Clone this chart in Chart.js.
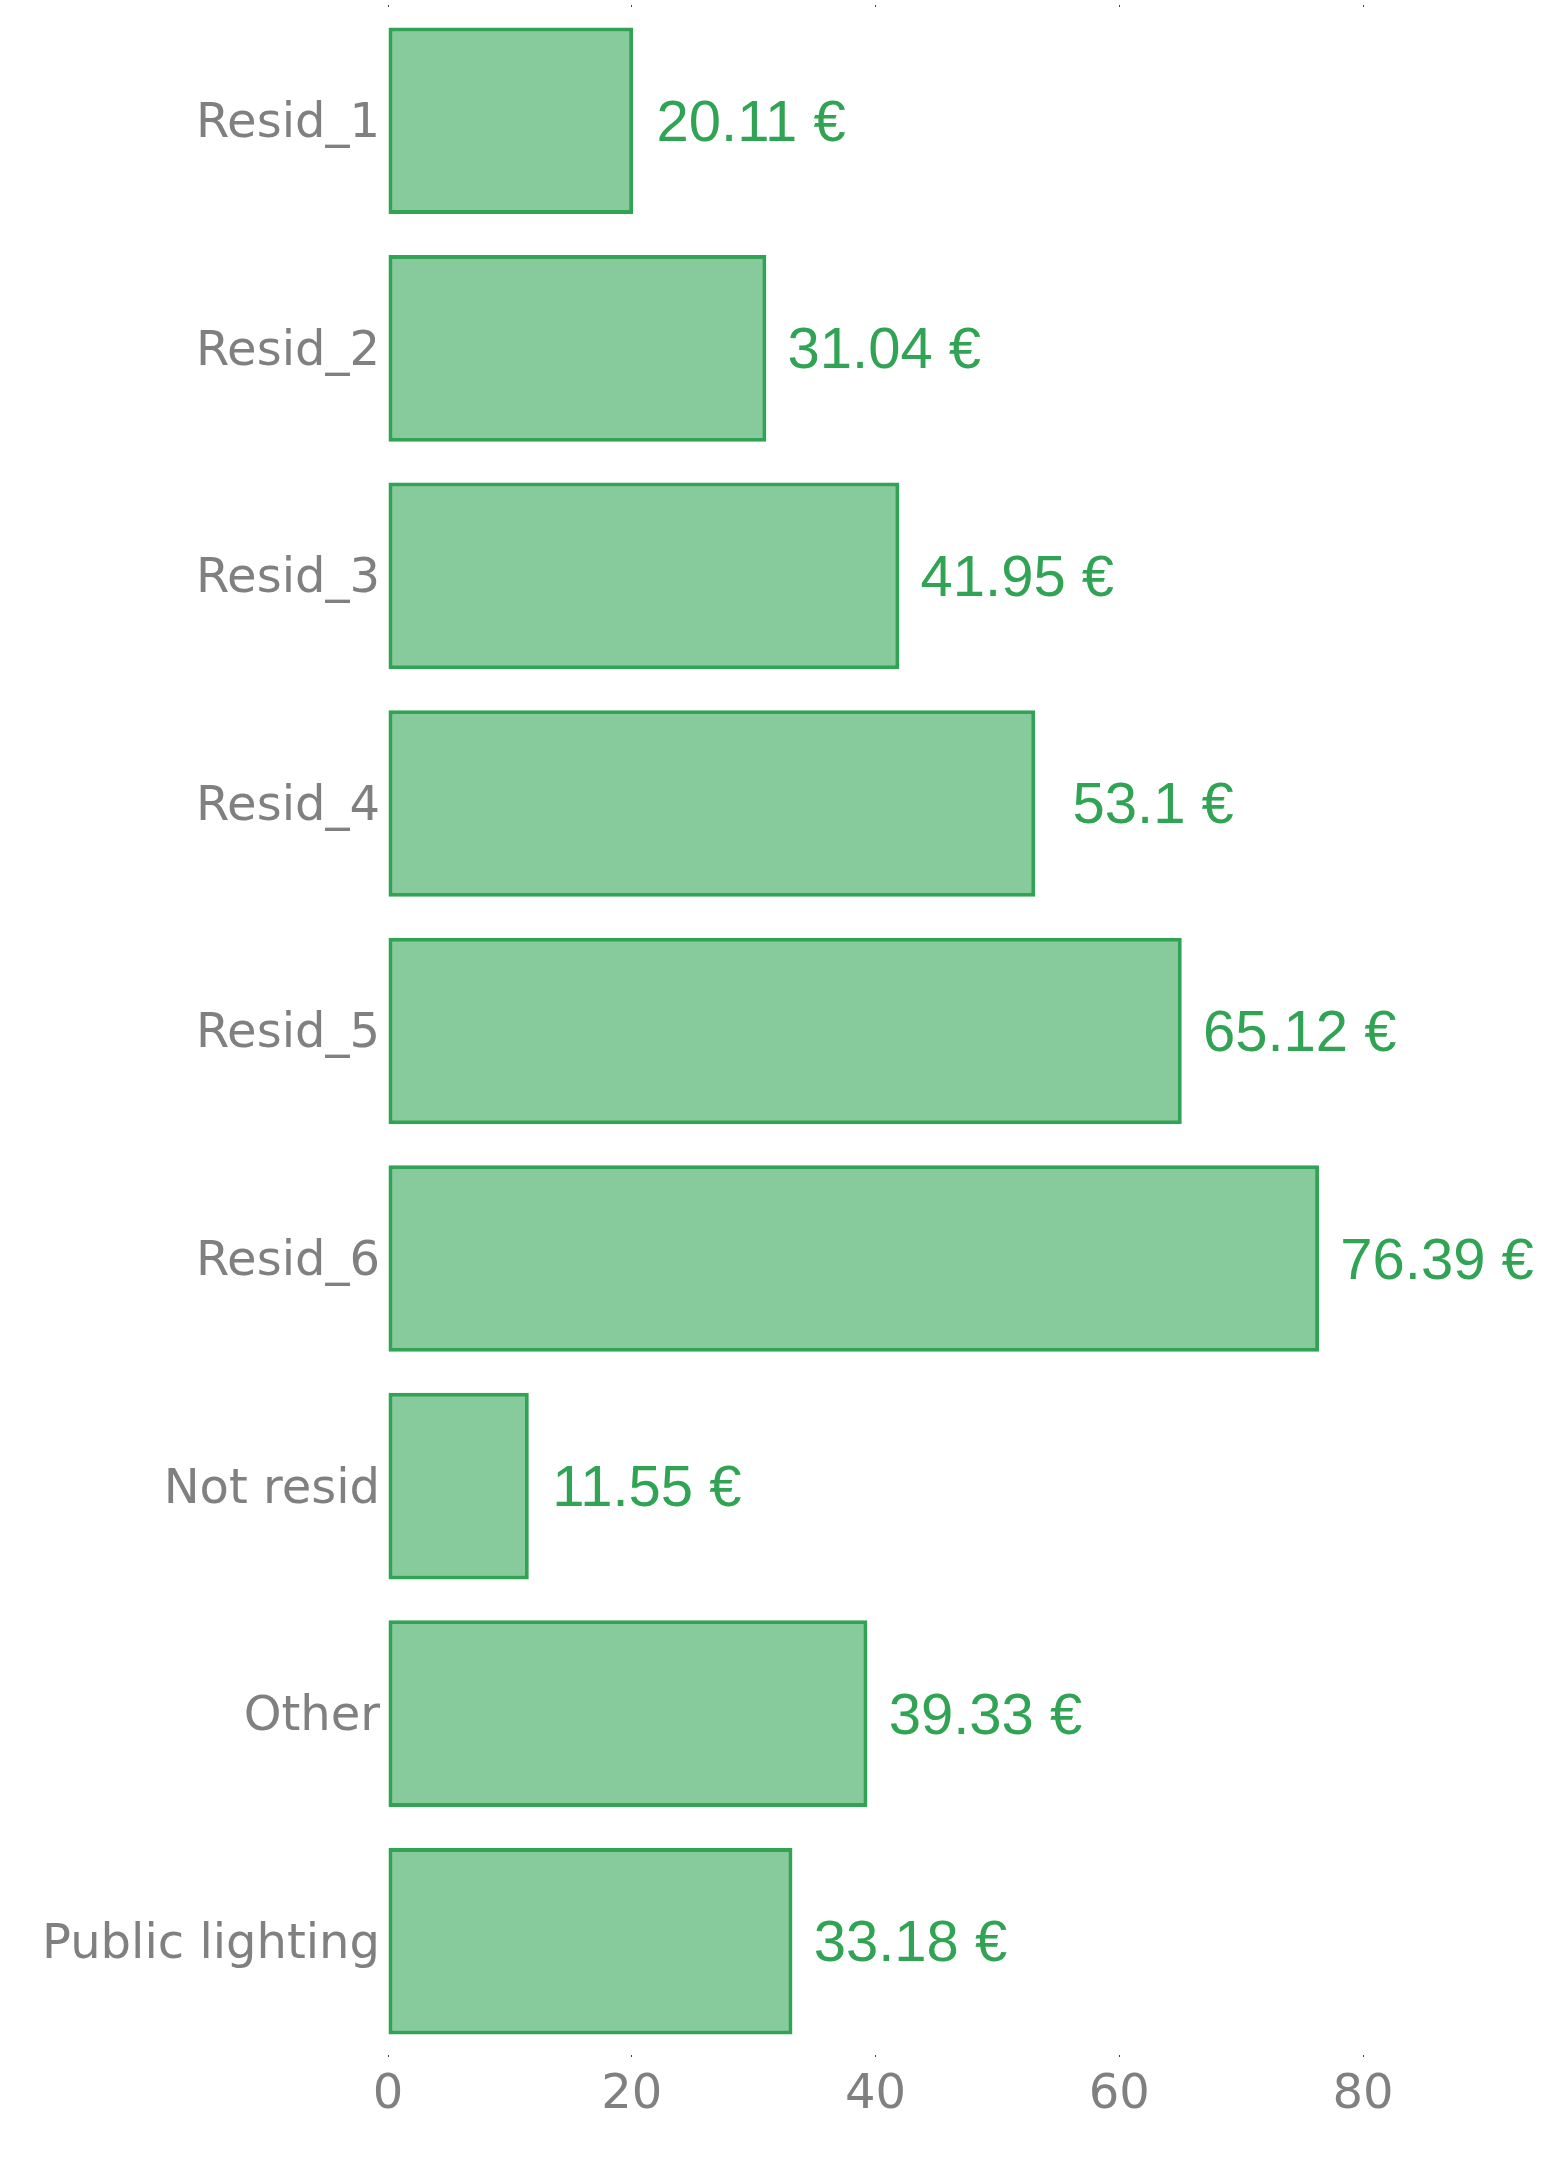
<!DOCTYPE html>
<html>
<head>
<meta charset="utf-8">
<script src="https://cdn.jsdelivr.net/npm/chart.js@4/dist/chart.umd.min.js"></script>
<style>
  html, body { margin: 0; padding: 0; background: #fff; }
  #wrap { width: 1558px; height: 2165px; }
</style>
</head>
<body>
<div id="wrap"><canvas id="costChart" width="1558" height="2165"></canvas></div>
<script>
const categories = ["Resid_1", "Resid_2", "Resid_3", "Resid_4", "Resid_5", "Resid_6", "Not resid", "Other", "Public lighting"];
const costs = [20.11, 31.04, 41.95, 53.1, 65.12, 76.39, 11.55, 39.33, 33.18];
const tickValues = [0, 20, 40, 60, 80];

const green = "#31a354";
const grey = "#808080";

const valueLabels = {
  id: "valueLabels",
  afterDatasetsDraw(chart) {
    const ctx = chart.ctx;
    const meta = chart.getDatasetMeta(0);
    ctx.save();
    ctx.font = "58px 'Liberation Sans', Arial, sans-serif";
    ctx.fillStyle = green;
    ctx.textAlign = "center";
    ctx.textBaseline = "middle";
    meta.data.forEach((bar, i) => {
      ctx.fillText(costs[i] + " €", bar.x + 118, bar.y + 4);
    });
    ctx.restore();
  },
};

const setTicks = (scale) => {
  scale.ticks = tickValues.map((v) => ({ value: v }));
};

new Chart(document.getElementById("costChart"), {
  type: "bar",
  data: {
    labels: categories,
    datasets: [
      {
        data: costs,
        xAxisID: "x",
        backgroundColor: "rgba(49, 163, 84, 0.58)",
        borderColor: green,
        borderWidth: 4,
        borderSkipped: false,
        barPercentage: 0.82,
        categoryPercentage: 1,
      },
    ],
  },
  options: {
    indexAxis: "y",
    responsive: false,
    animation: false,
    layout: { padding: { top: 0, right: 73, bottom: 0, left: 0 } },
    plugins: {
      legend: { display: false },
      tooltip: { enabled: false },
    },
    scales: {
      x: {
        position: "bottom",
        min: 0,
        max: 90,
        afterBuildTicks: setTicks,
        afterFit: (scale) => {
          scale.height = 110;
          scale.paddingLeft = 0;
          scale.paddingRight = 0;
        },
        border: { display: false },
        grid: { drawOnChartArea: false, tickLength: 2, color: "#444" },
        ticks: {
          padding: 10,
          color: grey,
          font: { family: "'DejaVu Sans', Verdana, sans-serif", size: 48 },
        },
      },
      xTop: {
        position: "top",
        min: 0,
        max: 90,
        afterBuildTicks: setTicks,
        afterFit: (scale) => {
          scale.height = 7;
          scale.paddingLeft = 0;
          scale.paddingRight = 0;
        },
        border: { display: false },
        grid: { drawOnChartArea: false, tickLength: 2, color: "#444" },
        ticks: { display: false },
      },
      y: {
        afterFit: (scale) => {
          scale.width = 388;
          scale.paddingTop = 0;
          scale.paddingBottom = 0;
        },
        border: { display: false },
        grid: { display: false, drawTicks: false },
        ticks: {
          padding: 8,
          labelOffset: 4,
          color: grey,
          font: { family: "'DejaVu Sans', Verdana, sans-serif", size: 48 },
        },
      },
    },
  },
  plugins: [valueLabels],
});
</script>
</body>
</html>
